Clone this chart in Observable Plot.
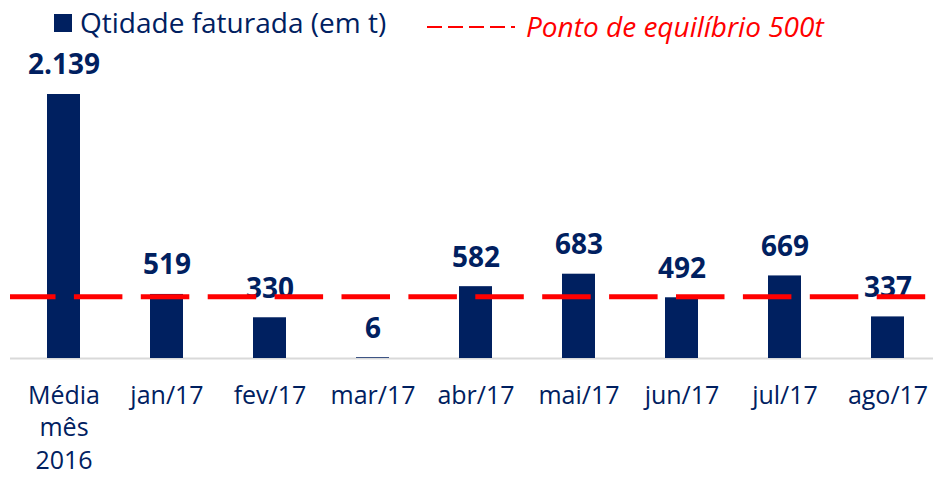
<!DOCTYPE html>
<html>
<head>
<meta charset="utf-8">
<script src="https://cdn.jsdelivr.net/npm/d3@7"></script>
<script src="https://cdn.jsdelivr.net/npm/@observablehq/plot@0.6"></script>
<style>
  html, body { margin: 0; padding: 0; background: #fff; }
  body { width: 933px; height: 479px; overflow: hidden; font-family: "Open Sans", sans-serif; }
  #legend { position: relative; width: 933px; height: 30px; }
  #legend .sq { position: absolute; left: 54px; top: 14px; width: 18px; height: 18px; background: #002060; }
  #legend .t1 { position: absolute; left: 80px; top: 8px; font-size: 28px; line-height: 1; color: #002060; white-space: nowrap; }
  #legend svg { position: absolute; left: 427px; top: 25px; }
  #legend .t2 { position: absolute; left: 526px; top: 12px; font-size: 28px; line-height: 1; color: #ff0000; font-style: italic; white-space: nowrap; }
</style>
</head>
<body>
<div id="legend">
  <div class="sq"></div>
  <div class="t1">Qtidade faturada (em t)</div>
  <svg width="90" height="4"><line x1="0" y1="2" x2="88" y2="2" stroke="#ff0000" stroke-width="2" stroke-dasharray="15,6"></line></svg>
  <div class="t2">Ponto de equilíbrio 500t</div>
</div>
<div id="chart"></div>
<script>
const categories = ["Média\nmês\n2016", "jan/17", "fev/17", "mar/17", "abr/17", "mai/17", "jun/17", "jul/17", "ago/17"];
const values = [2139, 519, 330, 6, 582, 683, 492, 669, 337];
const breakEven = 500;

const data = categories.map((c, i) => ({cat: c, val: values[i]}));
const ptBR = d3.formatLocale({decimal: ",", thousands: ".", grouping: [3], currency: ["R$", ""]});
const fmt = ptBR.format(",d");
const navy = "#002060";

const chart = Plot.plot({
  width: 933,
  height: 449,
  marginLeft: 10,
  marginRight: 0,
  marginTop: 64,
  marginBottom: 121,
  style: {fontFamily: "'Open Sans', sans-serif", background: "#fff"},
  x: {domain: categories, range: [10, 940], paddingInner: 0.68, paddingOuter: 0.34, axis: null},
  y: {domain: [0, 2139], axis: null},
  marks: [
    Plot.ruleY([0], {stroke: "#d9d9d9", strokeWidth: 2}),
    Plot.barY(data, {x: "cat", y: "val", fill: navy}),
    Plot.text(data, {x: "cat", y: "val", text: d => fmt(d.val), dy: -29, lineAnchor: "middle", fontSize: 28, fontWeight: "bold", fill: navy}),
    Plot.ruleY([breakEven], {stroke: "#ff0000", strokeWidth: 5, strokeDasharray: "48.5,18.4", strokeDashoffset: 3}),
    Plot.text(categories, {x: d => d, frameAnchor: "bottom", lineAnchor: "top", dy: 22, fontSize: 25, lineHeight: 1.3, fill: navy})
  ]
});
document.getElementById("chart").appendChild(chart);
</script>
</body>
</html>
